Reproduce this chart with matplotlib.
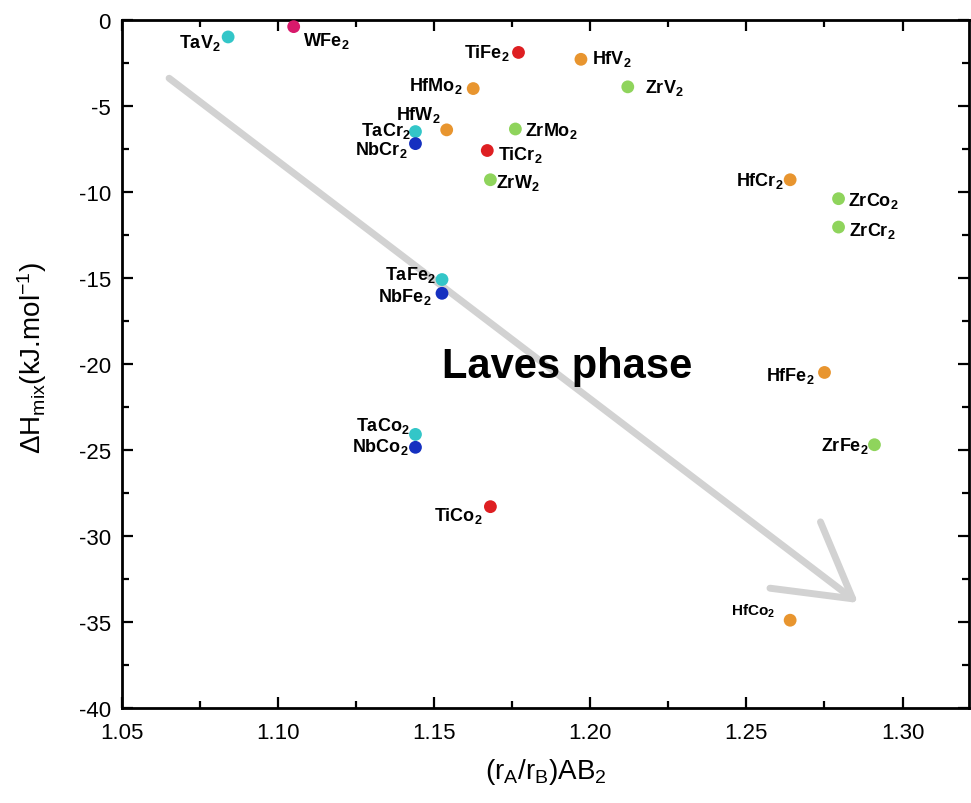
import matplotlib
matplotlib.use("Agg")
import matplotlib.pyplot as plt
from matplotlib.ticker import MultipleLocator

plt.rcParams['font.family'] = ['Liberation Sans', 'DejaVu Sans']
plt.rcParams['mathtext.default'] = 'regular'
plt.rcParams['axes.unicode_minus'] = False

# compounds, radius ratio and mixing enthalpy (kJ/mol)
names = ['TaV', 'WFe', 'TiFe', 'HfV', 'HfMo', 'ZrV', 'HfW', 'TaCr', 'NbCr',
         'ZrMo', 'TiCr', 'ZrW', 'HfCr', 'ZrCo', 'ZrCr', 'TaFe', 'NbFe',
         'HfFe', 'TaCo', 'NbCo', 'ZrFe', 'TiCo', 'HfCo']
ratio = [1.084, 1.105, 1.177, 1.197, 1.1625, 1.212, 1.154, 1.144, 1.144,
         1.176, 1.167, 1.168, 1.264, 1.2795, 1.2795, 1.1525, 1.1525,
         1.275, 1.144, 1.144, 1.291, 1.168, 1.264]
dH = [-1.0, -0.4, -1.9, -2.3, -4.0, -3.9, -6.4, -6.5, -7.2,
      -6.35, -7.6, -9.3, -9.3, -10.4, -12.05, -15.1, -15.9,
      -20.5, -24.1, -24.85, -24.7, -28.3, -34.9]

# colour by the A element
colors = {'Ta': '#33c6c8', 'W': '#d8196b', 'Ti': '#de1f22', 'Hf': '#e8952f',
          'Zr': '#8fd45c', 'Nb': '#1530c0'}

# label offsets in pixels (dx, dy) and horizontal alignment
label_pos = {
    'TaV': (-7, -5, 'right'), 'WFe': (9, -13, 'left'), 'TiFe': (-9, 0, 'right'),
    'HfV': (11, 1, 'left'), 'HfMo': (-11, 4, 'right'), 'ZrV': (17, 0, 'left'),
    'HfW': (-6, 16, 'right'), 'TaCr': (-5, 2, 'right'), 'NbCr': (-8, -5, 'right'),
    'ZrMo': (10, -1, 'left'), 'TiCr': (11, -3, 'left'), 'ZrW': (6, -2, 'left'),
    'HfCr': (-6, 0, 'right'), 'ZrCo': (9, -1, 'left'), 'ZrCr': (10, -3, 'left'),
    'TaFe': (-6, 6, 'right'), 'NbFe': (-10, -3, 'right'), 'HfFe': (-10, -3, 'right'),
    'TaCo': (-6, 9, 'right'), 'NbCo': (-7, 1, 'right'), 'ZrFe': (-6, 0, 'right'),
    'TiCo': (-8, -8, 'right'), 'HfCo': (-15, 10, 'right'),
}

fig = plt.figure(figsize=(9.71, 8.04), dpi=100)
ax = fig.add_axes([0.1256, 0.1182, 0.8724, 0.856])

ax.set_xlim(1.05, 1.3213)
ax.set_ylim(-40, 0)

# trend arrow
ax.annotate('', xy=(1.2858, -33.9), xytext=(1.0651, -3.4),
            arrowprops=dict(arrowstyle='->,head_length=2.6,head_width=1.5',
                            mutation_scale=20, lw=5, color='#d2d2d2',
                            shrinkA=0, shrinkB=0),
            zorder=1)

for n, x, y in zip(names, ratio, dH):
    a = n[:2] if n[1].islower() else n[:1]
    ax.scatter(x, y, s=85, color=colors[a], edgecolors='none', zorder=3)
    dx, dy, ha = label_pos[n]
    fs = 11 if n == 'HfCo' else 13
    ax.annotate(n + '$_2$', (x, y), xytext=(dx, dy), textcoords='offset pixels',
                ha=ha, va='center', fontsize=fs, fontweight='bold', zorder=4)

ax.text(1.1926, -20.1, 'Laves phase', fontsize=30, fontweight='bold',
        ha='center', va='center', zorder=2)

ax.xaxis.set_major_locator(MultipleLocator(0.05))
ax.xaxis.set_minor_locator(MultipleLocator(0.025))
ax.yaxis.set_major_locator(MultipleLocator(5))
ax.yaxis.set_minor_locator(MultipleLocator(2.5))
ax.set_xticks([1.05, 1.10, 1.15, 1.20, 1.25, 1.30])
ax.set_xticklabels(['1.05', '1.10', '1.15', '1.20', '1.25', '1.30'])

ax.tick_params(which='both', direction='in', top=True, right=True, width=1.6)
ax.tick_params(which='major', length=8, labelsize=16)
ax.tick_params(which='minor', length=5)
ax.tick_params(axis='x', pad=10)
ax.tick_params(axis='y', pad=8)
for s in ax.spines.values():
    s.set_linewidth(2)

ax.set_xlabel('(r$_A$/r$_B$)AB$_2$', fontsize=20)
ax.set_ylabel(r'$\Delta$H$_{mix}$(kJ.mol$^{-1}$)', fontsize=20)
ax.xaxis.set_label_coords(0.5, -0.07)
ax.yaxis.set_label_coords(-0.086, 0.51)

fig.savefig('out.png', dpi=100)
